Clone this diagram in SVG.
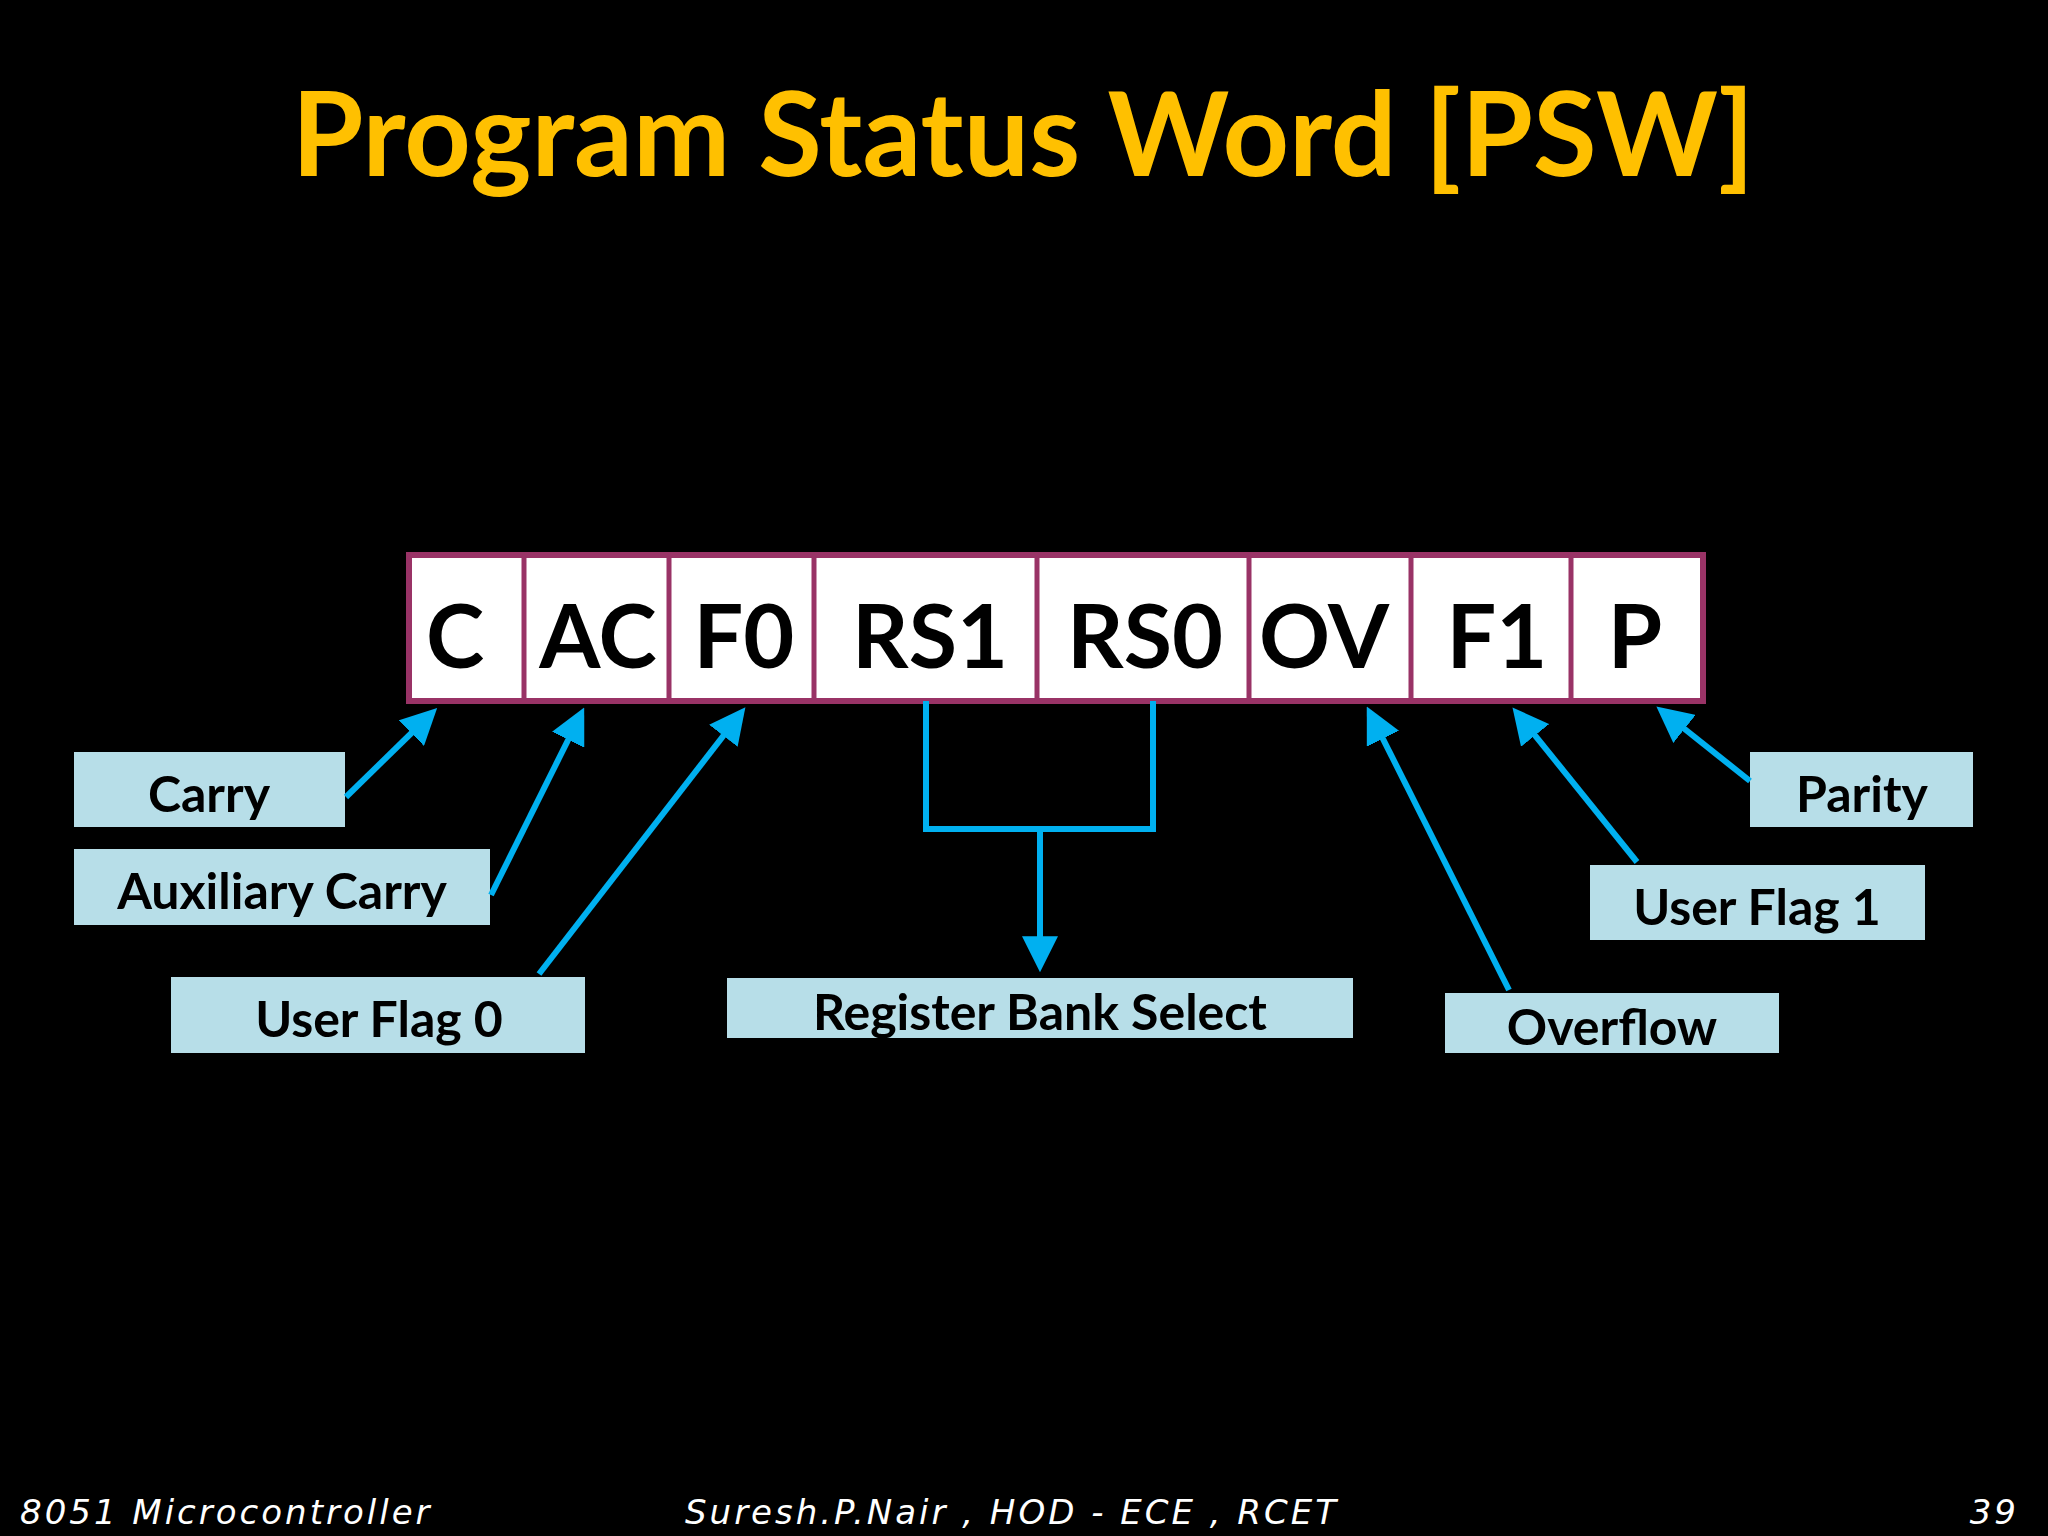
<svg xmlns="http://www.w3.org/2000/svg" width="2048" height="1536" viewBox="0 0 2048 1536">
<defs>
<marker id="ah" viewBox="0 0 10 10" refX="8" refY="5" markerWidth="6" markerHeight="6" orient="auto" markerUnits="strokeWidth"><path d="M0,0 L10,5 L0,10 z" fill="#00B0F0"/></marker>
<style>
.cell{font-family:Lato,"Open Sans",sans-serif;font-weight:bold;font-size:88px;fill:#000;text-anchor:middle}
.lb{fill:#B7DEE8}
.lt{font-family:Lato,"Open Sans",sans-serif;font-weight:bold;font-size:50px;fill:#000;text-anchor:middle}
.ar{stroke:#00B0F0;stroke-width:6;fill:none}
.ft{font-family:"DejaVu Sans",sans-serif;font-style:italic;font-size:34px;letter-spacing:3px;fill:#fff}
</style>
</defs>
<rect width="2048" height="1536" fill="#000"/>
<text x="1023" y="176" font-family="Lato,'Open Sans',sans-serif" font-weight="bold" font-size="116" fill="#FFC000" text-anchor="middle">Program Status Word [PSW]</text>
<g id="psw">
<rect x="409" y="555" width="1294" height="146" fill="#fff" stroke="#993366" stroke-width="6"/>
<path d="M524,555V701M669,555V701M814,555V701M1037,555V701M1249,555V701M1411,555V701M1571,555V701" stroke="#993366" stroke-width="5"/>
<text class="cell" x="455" y="668">C</text>
<text class="cell" x="598" y="668">AC</text>
<text class="cell" x="744" y="668">F0</text>
<text class="cell" x="930" y="668">RS1</text>
<text class="cell" x="1145" y="668">RS0</text>
<text class="cell" x="1324" y="668">OV</text>
<text class="cell" x="1497" y="668">F1</text>
<text class="cell" x="1635" y="668">P</text>
</g>
<g id="carry"><rect class="lb" x="74" y="752" width="271" height="75"/><text class="lt" x="209" y="812">Carry</text></g>
<g id="aux"><rect class="lb" x="74" y="849" width="416" height="76"/><text class="lt" x="282" y="909">Auxiliary Carry</text></g>
<g id="uf0"><rect class="lb" x="171" y="977" width="414" height="76"/><text class="lt" x="379" y="1037">User Flag 0</text></g>
<g id="rbs"><rect class="lb" x="727" y="978" width="626" height="60"/><text class="lt" x="1040" y="1030">Register Bank Select</text></g>
<g id="ov"><rect class="lb" x="1445" y="993" width="334" height="60"/><text class="lt" x="1612" y="1045">Overflow</text></g>
<g id="uf1"><rect class="lb" x="1590" y="865" width="335" height="75"/><text class="lt" x="1757" y="925">User Flag 1</text></g>
<g id="parity"><rect class="lb" x="1750" y="752" width="223" height="75"/><text class="lt" x="1862" y="812">Parity</text></g>
<g id="connectors">
<line class="ar" x1="346" y1="797" x2="432" y2="713" marker-end="url(#ah)"/>
<line class="ar" x1="491" y1="895" x2="581" y2="714" marker-end="url(#ah)"/>
<line class="ar" x1="539" y1="974" x2="741" y2="713" marker-end="url(#ah)"/>
<path class="ar" d="M926,701V829H1153V701"/>
<line class="ar" x1="1040" y1="829" x2="1040" y2="965" marker-end="url(#ah)"/>
<line class="ar" x1="1509" y1="990" x2="1370" y2="713" marker-end="url(#ah)"/>
<line class="ar" x1="1637" y1="862" x2="1517" y2="713" marker-end="url(#ah)"/>
<line class="ar" x1="1750" y1="781" x2="1662" y2="711" marker-end="url(#ah)"/>
</g>
<text class="ft" x="20" y="1524">8051 Microcontroller</text>
<text class="ft" x="1012" y="1524" text-anchor="middle">Suresh.P.Nair , HOD - ECE , RCET</text>
<text class="ft" x="2019" y="1524" text-anchor="end">39</text>
</svg>
